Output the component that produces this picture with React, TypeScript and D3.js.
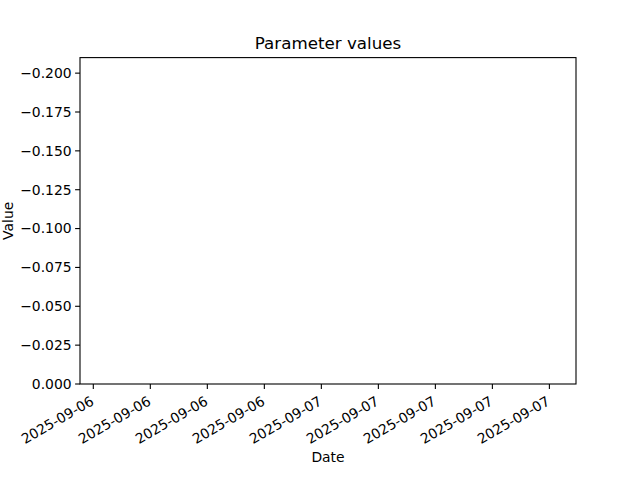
import { useEffect, useRef } from 'react';
import * as d3 from 'd3';

// Empty time series: the figure only shows its axes
const paramDates: string[] = [];
const paramValues: number[] = [];

// Axis ranges
const dateDomain = ['2025-09-06T19:46:00', '2025-09-07T04:28:00'];
const valueDomain = [0, -0.21];
const valueTicks = [0, -0.025, -0.05, -0.075, -0.1, -0.125, -0.15, -0.175, -0.2];

const App = () => {
  const svgRef = useRef<SVGSVGElement>(null);

  useEffect(() => {
    if (!svgRef.current) return;
    const W = 640;
    const H = 480;
    const margin = { top: 57.6, right: 64, bottom: 96, left: 80 };
    const innerW = W - margin.left - margin.right;
    const innerH = H - margin.top - margin.bottom;
    const font = 'DejaVu Sans, sans-serif';

    const svg = d3.select(svgRef.current);
    svg.selectAll('*').remove();
    svg.attr('width', W).attr('height', H);

    svg.append('rect').attr('width', W).attr('height', H).attr('fill', '#fff');

    const g = svg.append('g').attr('transform', `translate(${margin.left},${margin.top})`);

    const x = d3.scaleTime()
      .domain(dateDomain.map(d => new Date(d)))
      .range([0, innerW]);
    const y = d3.scaleLinear().domain(valueDomain).range([innerH, 0]);

    // datos (vacíos)
    const pts = paramDates.map((d, i) => [new Date(d), paramValues[i]] as [Date, number]);
    g.append('path')
      .datum(pts)
      .attr('fill', 'none')
      .attr('stroke', '#1f77b4')
      .attr('stroke-width', 1.5)
      .attr('d', d3.line<[Date, number]>().x(d => x(d[0])).y(d => y(d[1])));

    // eje y
    const fmtY = d3.format('.3f');
    valueTicks.forEach(v => {
      const yy = y(v);
      g.append('line')
        .attr('x1', -4.9).attr('x2', 0).attr('y1', yy).attr('y2', yy)
        .attr('stroke', '#000').attr('stroke-width', 1.1);
      g.append('text')
        .attr('x', -8.4).attr('y', yy)
        .attr('dy', '0.35em')
        .attr('text-anchor', 'end')
        .attr('font-family', font)
        .attr('font-size', 13.9)
        .attr('fill', '#000')
        .text(fmtY(v));
    });

    // eje x
    const fmtX = d3.timeFormat('%Y-%m-%d');
    const xTicks = x.ticks(d3.timeHour.every(1)!);
    xTicks.forEach(t => {
      const xx = x(t);
      g.append('line')
        .attr('x1', xx).attr('x2', xx).attr('y1', innerH).attr('y2', innerH + 4.9)
        .attr('stroke', '#000').attr('stroke-width', 1.1);
      const lx = xx + 1.5;
      const ly = innerH + 20;
      g.append('text')
        .attr('x', lx).attr('y', ly)
        .attr('text-anchor', 'end')
        .attr('transform', `rotate(-30,${lx},${ly})`)
        .attr('font-family', font)
        .attr('font-size', 13.9)
        .attr('fill', '#000')
        .text(fmtX(t));
    });

    // marco
    g.append('rect')
      .attr('width', innerW).attr('height', innerH)
      .attr('fill', 'none').attr('stroke', '#000').attr('stroke-width', 1.1);

    // títulos
    svg.append('text')
      .attr('x', margin.left + innerW / 2).attr('y', 49)
      .attr('text-anchor', 'middle')
      .attr('font-family', font).attr('font-size', 16.7)
      .text('Parameter values');

    svg.append('text')
      .attr('x', margin.left + innerW / 2).attr('y', 462)
      .attr('text-anchor', 'middle')
      .attr('font-family', font).attr('font-size', 13.9)
      .text('Date');

    svg.append('text')
      .attr('transform', `translate(13,${margin.top + innerH / 2}) rotate(-90)`)
      .attr('text-anchor', 'middle')
      .attr('font-family', font).attr('font-size', 13.9)
      .text('Value');
  }, []);

  return <svg ref={svgRef} style={{ position: 'absolute', left: 0, top: 0, display: 'block' }} />;
};

export default App;
